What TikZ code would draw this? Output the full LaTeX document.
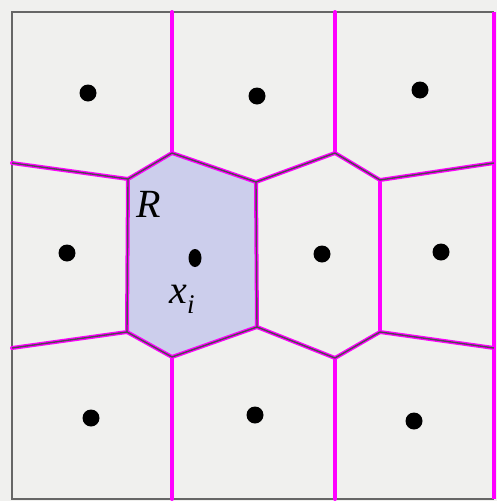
\documentclass[tikz,border=0pt]{standalone}
\usepackage{fontspec}
\newfontfamily\lblfont{Liberation Serif}
\usepackage{tikz}
\usetikzlibrary{shapes.geometric}
\definecolor{bgray}{RGB}{240,240,238}
\definecolor{cellR}{RGB}{204,206,236}
\definecolor{vmag}{RGB}{255,0,255}
\newcommand{\sitelbl}[2]{\textit{#1}\raisebox{-10pt}{\fontsize{27}{30}\selectfont\textit{#2}}}

\begin{document}
\begin{tikzpicture}[x=1pt,y=-1pt,
  frm/.style={draw=black!60,line width=2.5pt},
  edg/.style={draw=vmag,line width=4pt},
  ink/.style={draw=black!70,line width=1.4pt},
  site/.style={circle,fill=black,inner sep=0pt,minimum size=17pt},
  lbl/.style={font=\lblfont\fontsize{40}{46}\selectfont,inner sep=0pt}]
\useasboundingbox (0,0) rectangle (497,501);
\fill[bgray] (0,0) rectangle (497,501);
% vertices
\coordinate (a) at (172,153);
\coordinate (b) at (128,179);
\coordinate (c) at (256,182);
\coordinate (d) at (257,327);
\coordinate (e) at (172,357);
\coordinate (f) at (127,332);
\coordinate (g) at (335,153);
\coordinate (h) at (380,180);
\coordinate (k) at (380,332);
\coordinate (m) at (335,358);
% ends on the frame
\coordinate (t1) at (172,12);
\coordinate (t2) at (335,12);
\coordinate (l1) at (12,163);
\coordinate (l2) at (12,348);
\coordinate (r1) at (494,163);
\coordinate (r2) at (494,348);
\coordinate (b1) at (172,499);
\coordinate (b2) at (335,499);
\fill[cellR] (a) -- (c) -- (d) -- (e) -- (f) -- (b) -- cycle;
\draw[frm] (494,12) -- (12,12) -- (12,499) -- (494,499);
\draw[edg] (494,12) -- (494,499);
\foreach \p/\q in {t1/a,a/b,b/l1,a/c,b/f,c/g,g/t2,g/h,h/r1,c/d,h/k,
  d/m,k/m,k/r2,m/b2,d/e,e/f,f/l2,e/b1} {
   \draw[edg,line cap=round] (\p) -- (\q);
}
\foreach \p/\q in {a/b,b/l1,a/c,c/g,g/h,h/r1,b/f,c/d,d/m,k/m,k/r2,d/e,e/f,f/l2} {
   \draw[ink] (\p) -- (\q);
}
% sites
\foreach \x/\y/\n in {88/93/s1,257/96/s2,420/90/s3,67/253/s4,322/254/s6,
  441/252/s7,91/418/s8,255/415/s9,414/421/s10} {
   \node[site] (\n) at (\x,\y) {};
}
\node[site,ellipse,minimum width=13pt,minimum height=18pt] (xi) at (195,258) {};
\node[lbl] (R) at (149,204) {\textit{R}};
\node[lbl] (lxi) at (182,299) {\sitelbl{x}{i}};
\end{tikzpicture}
\end{document}
